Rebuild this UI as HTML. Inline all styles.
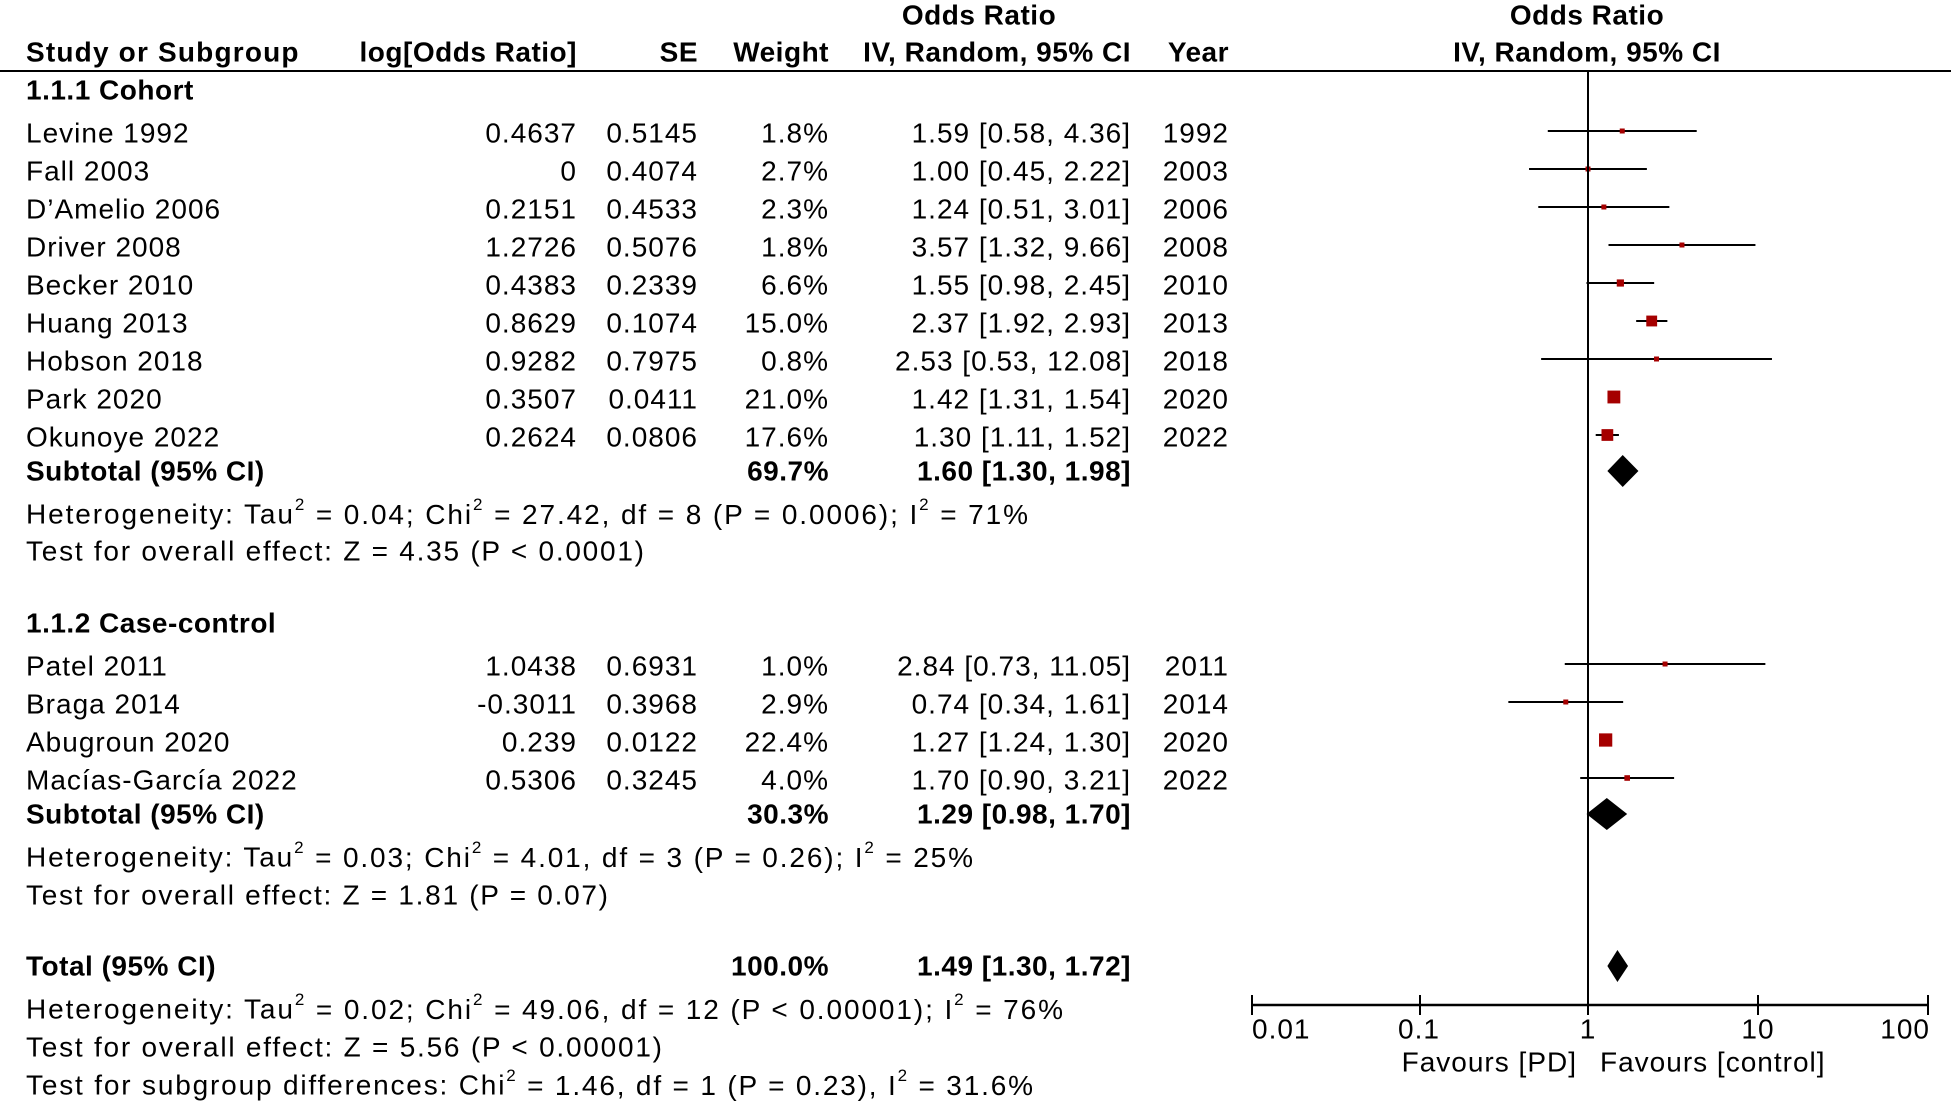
<!DOCTYPE html>
<html><head><meta charset="utf-8"><style>
html,body{margin:0;padding:0;background:#fff;}
svg{display:block;}
text{font-family:"Liberation Sans",sans-serif;font-size:28px;letter-spacing:1px;fill:#000;}
.b{font-weight:bold;letter-spacing:0.5px;}
</style></head><body>
<svg width="1955" height="1103" viewBox="0 0 1955 1103" xmlns="http://www.w3.org/2000/svg">
<g dominant-baseline="central">
<text x="979" y="15" text-anchor="middle" class="b">Odds Ratio</text>
<text x="1587" y="15" text-anchor="middle" class="b">Odds Ratio</text>
<text x="26" y="52" class="b" textLength="273">Study or Subgroup</text>
<text x="577" y="52" text-anchor="end" class="b">log[Odds Ratio]</text>
<text x="698" y="52" text-anchor="end" class="b">SE</text>
<text x="829" y="52" text-anchor="end" class="b">Weight</text>
<text x="1131" y="52" text-anchor="end" class="b">IV, Random, 95% CI</text>
<text x="1229" y="52" text-anchor="end" class="b">Year</text>
<text x="1587" y="52" text-anchor="middle" class="b">IV, Random, 95% CI</text>
</g>
<line x1="0" y1="71" x2="1951" y2="71" stroke="#000" stroke-width="2"/>
<g dominant-baseline="central">
<text x="26" y="90" class="b">1.1.1 Cohort</text>
<g id="rows"></g>
</g>
<script>
var rows=[
["Levine 1992","0.4637","0.5145","1.8%","1.59 [0.58, 4.36]","1992",133,1.59,0.58,4.36,1.8],
["Fall 2003","0","0.4074","2.7%","1.00 [0.45, 2.22]","2003",171,1.00,0.45,2.22,2.7],
["D\u2019Amelio 2006","0.2151","0.4533","2.3%","1.24 [0.51, 3.01]","2006",209,1.24,0.51,3.01,2.3],
["Driver 2008","1.2726","0.5076","1.8%","3.57 [1.32, 9.66]","2008",247,3.57,1.32,9.66,1.8],
["Becker 2010","0.4383","0.2339","6.6%","1.55 [0.98, 2.45]","2010",285,1.55,0.98,2.45,6.6],
["Huang 2013","0.8629","0.1074","15.0%","2.37 [1.92, 2.93]","2013",323,2.37,1.92,2.93,15],
["Hobson 2018","0.9282","0.7975","0.8%","2.53 [0.53, 12.08]","2018",361,2.53,0.53,12.08,0.8],
["Park 2020","0.3507","0.0411","21.0%","1.42 [1.31, 1.54]","2020",399,1.42,1.31,1.54,21],
["Okunoye 2022","0.2624","0.0806","17.6%","1.30 [1.11, 1.52]","2022",437,1.30,1.11,1.52,17.6],
["Patel 2011","1.0438","0.6931","1.0%","2.84 [0.73, 11.05]","2011",666,2.84,0.73,11.05,1.0],
["Braga 2014","-0.3011","0.3968","2.9%","0.74 [0.34, 1.61]","2014",704,0.74,0.34,1.61,2.9],
["Abugroun 2020","0.239","0.0122","22.4%","1.27 [1.24, 1.30]","2020",742,1.27,1.24,1.30,22.4],
["Mac\u00edas-Garc\u00eda 2022","0.5306","0.3245","4.0%","1.70 [0.90, 3.21]","2022",780,1.70,0.90,3.21,4.0]];
var NS="http://www.w3.org/2000/svg",g=document.getElementById("rows"),svg=document.querySelector("svg");
function X(v){return 1588+170*Math.log10(v);}
function t(x,y,s,a){var e=document.createElementNS(NS,"text");e.setAttribute("x",x);e.setAttribute("y",y);if(a)e.setAttribute("text-anchor",a);e.textContent=s;g.appendChild(e);}
function el(n,at){var e=document.createElementNS(NS,n);for(var k in at)e.setAttribute(k,at[k]);svg.appendChild(e);}
rows.forEach(function(r){var y=r[6];
t(26,y,r[0]);t(577,y,r[1],"end");t(698,y,r[2],"end");t(829,y,r[3],"end");t(1131,y,r[4],"end");t(1229,y,r[5],"end");
var ym=y-2;el("line",{x1:X(r[8]),x2:X(r[9]),y1:ym,y2:ym,stroke:"#000","stroke-width":2});
var s=Math.max(5,2.8*Math.sqrt(r[10]));el("rect",{x:X(r[7])-s/2,y:ym-s/2,width:s,height:s,fill:"#a50000"});});
function dia(lo,m,hi,y,h){el("polygon",{points:X(lo)+","+y+" "+X(m)+","+(y-h/2)+" "+X(hi)+","+y+" "+X(m)+","+(y+h/2),fill:"#000"});}
dia(1.30,1.60,1.98,471,32);dia(0.98,1.29,1.70,814,32);dia(1.30,1.49,1.72,966,32);
</script>
<g dominant-baseline="central">
<text x="26" y="471" class="b">Subtotal (95% CI)</text>
<text x="829" y="471" text-anchor="end" class="b">69.7%</text>
<text x="1131" y="471" text-anchor="end" class="b">1.60 [1.30, 1.98]</text>
<text x="26" y="514" textLength="1003">Heterogeneity: Tau<tspan font-size="17" dy="-10">2</tspan><tspan dy="10"> = 0.04; Chi</tspan><tspan font-size="17" dy="-10">2</tspan><tspan dy="10"> = 27.42, df = 8 (P = 0.0006); I</tspan><tspan font-size="17" dy="-10">2</tspan><tspan dy="10"> = 71%</tspan></text>
<text x="26" y="551" textLength="619">Test for overall effect: Z = 4.35 (P &lt; 0.0001)</text>
<text x="26" y="623" class="b">1.1.2 Case-control</text>
<text x="26" y="814" class="b">Subtotal (95% CI)</text>
<text x="829" y="814" text-anchor="end" class="b">30.3%</text>
<text x="1131" y="814" text-anchor="end" class="b">1.29 [0.98, 1.70]</text>
<text x="26" y="857" textLength="948">Heterogeneity: Tau<tspan font-size="17" dy="-10">2</tspan><tspan dy="10"> = 0.03; Chi</tspan><tspan font-size="17" dy="-10">2</tspan><tspan dy="10"> = 4.01, df = 3 (P = 0.26); I</tspan><tspan font-size="17" dy="-10">2</tspan><tspan dy="10"> = 25%</tspan></text>
<text x="26" y="895" textLength="583">Test for overall effect: Z = 1.81 (P = 0.07)</text>
<text x="26" y="966" class="b">Total (95% CI)</text>
<text x="829" y="966" text-anchor="end" class="b">100.0%</text>
<text x="1131" y="966" text-anchor="end" class="b">1.49 [1.30, 1.72]</text>
<text x="26" y="1009" textLength="1038">Heterogeneity: Tau<tspan font-size="17" dy="-10">2</tspan><tspan dy="10"> = 0.02; Chi</tspan><tspan font-size="17" dy="-10">2</tspan><tspan dy="10"> = 49.06, df = 12 (P &lt; 0.00001); I</tspan><tspan font-size="17" dy="-10">2</tspan><tspan dy="10"> = 76%</tspan></text>
<text x="26" y="1047" textLength="637">Test for overall effect: Z = 5.56 (P &lt; 0.00001)</text>
<text x="26" y="1085" textLength="1008">Test for subgroup differences: Chi<tspan font-size="17" dy="-10">2</tspan><tspan dy="10"> = 1.46, df = 1 (P = 0.23), I</tspan><tspan font-size="17" dy="-10">2</tspan><tspan dy="10"> = 31.6%</tspan></text>
<text x="1252" y="1029">0.01</text>
<text x="1419" y="1029" text-anchor="middle">0.1</text>
<text x="1588" y="1029" text-anchor="middle">1</text>
<text x="1758" y="1029" text-anchor="middle">10</text>
<text x="1930" y="1029" text-anchor="end">100</text>
<text x="1577" y="1062" text-anchor="end">Favours [PD]</text>
<text x="1600" y="1062">Favours [control]</text>
</g>
<line x1="1588" y1="71" x2="1588" y2="1005" stroke="#000" stroke-width="2"/>
<line x1="1251" y1="1005" x2="1929" y2="1005" stroke="#000" stroke-width="2.5"/>
<g stroke="#000" stroke-width="2">
<line x1="1252" y1="995" x2="1252" y2="1015"/><line x1="1420" y1="995" x2="1420" y2="1015"/>
<line x1="1588" y1="995" x2="1588" y2="1015"/><line x1="1758" y1="995" x2="1758" y2="1015"/>
<line x1="1928" y1="995" x2="1928" y2="1015"/>
</g>
</svg>
</body></html>
